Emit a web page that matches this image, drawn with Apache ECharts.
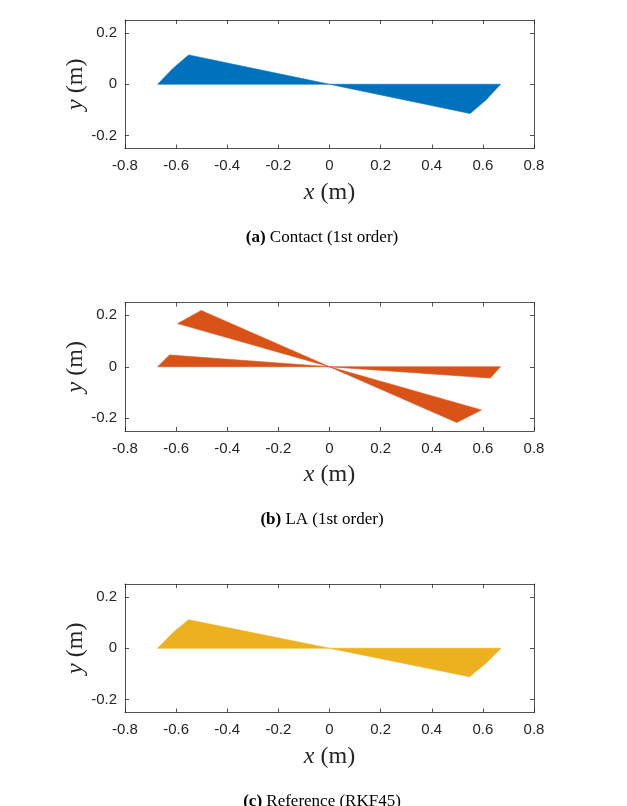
<!DOCTYPE html>
<html lang="en" style="height: 100%">
<head>
  <meta charset="utf-8">
</head>
<body style="height: 100%; margin: 0; background: #fff">
  <div id="container" style="height: 100%"></div>

  <script type="text/javascript" src="https://cdn.jsdelivr.net/npm/echarts@6/dist/echarts.min.js"></script>

  <script type="text/javascript">
    // panel captions and fill colours
    var captionTags = ['(a)', '(b)', '(c)'];
    var captionTexts = ['Contact (1st order)', 'LA (1st order)', 'Reference (RKF45)'];
    var panelColors = ['#0072BD', '#D95319', '#EDB120'];

    var xTickValues = [-0.8, -0.6, -0.4, -0.2, 0, 0.2, 0.4, 0.6, 0.8];
    var yTickValues = [-0.2, 0, 0.2];

    // swept regions, one list of [x, y] vertices per polygon
    var contactPolys = [
      [[-0.672, 0], [-0.613, 0.061], [-0.551, 0.114], [0, 0]],
      [[0, 0], [0.550, -0.114], [0.612, -0.061], [0.669, 0]]
    ];
    var laPolys = [
      [[-0.672, 0], [-0.626, 0.046], [0, 0]],
      [[0, 0], [0.669, 0], [0.629, -0.044]],
      [[-0.594, 0.168], [-0.502, 0.219], [0, 0]],
      [[0, 0], [0.594, -0.168], [0.498, -0.217]]
    ];
    var referencePolys = [
      [[-0.672, 0], [-0.613, 0.060], [-0.551, 0.111], [0, 0]],
      [[0, 0], [0.548, -0.111], [0.611, -0.059], [0.671, 0]]
    ];
    var panelPolys = [contactPolys, laPolys, referencePolys];

    var dom = document.getElementById('container');
    var myChart = echarts.init(dom, null, { renderer: 'canvas' });

    var gridTops = [20, 302.5, 584];
    var gridHeight = 128.5;
    var lineColor = '#262626';
    var tickFont = 'Liberation Sans';
    var serif = 'Liberation Serif';

    var grids = [], xAxes = [], yAxes = [], series = [], titles = [];

    gridTops.forEach(function (top, i) {
      grids.push({ left: 125, right: 93, top: top, height: gridHeight,
        show: false });

      var axisLine = { show: true, onZero: false,
        lineStyle: { color: lineColor, width: 0.8 } };
      var tick = { show: true, inside: true, length: 4,
        lineStyle: { color: lineColor, width: 0.8 } };
      var nameStyle = { fontFamily: serif, fontSize: 24, color: '#262626',
        rich: { i: { fontFamily: serif, fontStyle: 'italic', fontSize: 24, color: '#262626' } } };

      // bottom x axis with labels
      xAxes.push({
        type: 'value', gridIndex: i, position: 'bottom',
        min: -0.8, max: 0.8, interval: 0.2,
        axisLine: axisLine, axisTick: tick, splitLine: { show: false },
        axisLabel: { fontFamily: tickFont, fontSize: 15, color: '#262626', margin: 10 },
        name: '{i|x} (m)', nameLocation: 'middle', nameGap: 32,
        nameMoveOverlap: false,
        nameTextStyle: nameStyle
      });
      // top x axis, ticks only
      xAxes.push({
        type: 'value', gridIndex: i, position: 'top',
        min: -0.8, max: 0.8, interval: 0.2,
        axisLine: axisLine, axisTick: tick, splitLine: { show: false },
        axisLabel: { show: false }
      });
      // left y axis with labels
      yAxes.push({
        type: 'value', gridIndex: i, position: 'left',
        min: -0.25, max: 0.25,
        axisLine: axisLine,
        axisTick: Object.assign({ customValues: yTickValues }, tick),
        splitLine: { show: false },
        axisLabel: { customValues: yTickValues, fontFamily: tickFont, fontSize: 15,
          color: '#262626', margin: 8 },
        name: '{i|y} (m)', nameLocation: 'middle', nameGap: 37, nameRotate: 90,
        nameMoveOverlap: false,
        nameTextStyle: nameStyle
      });
      // right y axis, ticks only
      yAxes.push({
        type: 'value', gridIndex: i, position: 'right',
        min: -0.25, max: 0.25,
        axisLine: axisLine,
        axisTick: Object.assign({ customValues: yTickValues }, tick),
        splitLine: { show: false },
        axisLabel: { show: false }
      });

      var polys = panelPolys[i];
      var color = panelColors[i];
      series.push({
        type: 'custom',
        xAxisIndex: 2 * i, yAxisIndex: 2 * i,
        silent: true, animation: false,
        data: polys.map(function (p) { return p[0]; }),
        renderItem: function (params, api) {
          var pts = polys[params.dataIndex].map(function (v) { return api.coord(v); });
          return {
            type: 'polygon',
            shape: { points: pts },
            style: { fill: color, stroke: color, lineWidth: 0.6 }
          };
        }
      });

      titles.push({
        text: '{b|' + captionTags[i] + '} ' + captionTexts[i],
        left: 317, top: top + 204, textAlign: 'center',
        textStyle: { fontFamily: serif, fontSize: 17, fontWeight: 'normal', color: '#000',
          rich: { b: { fontFamily: serif, fontSize: 17, fontWeight: 'bold', color: '#000' } } }
      });
    });

    var option = {
      backgroundColor: '#fff',
      title: titles,
      grid: grids,
      xAxis: xAxes,
      yAxis: yAxes,
      series: series
    };

    myChart.setOption(option);
    window.addEventListener('resize', myChart.resize);
  </script>
</body>
</html>
